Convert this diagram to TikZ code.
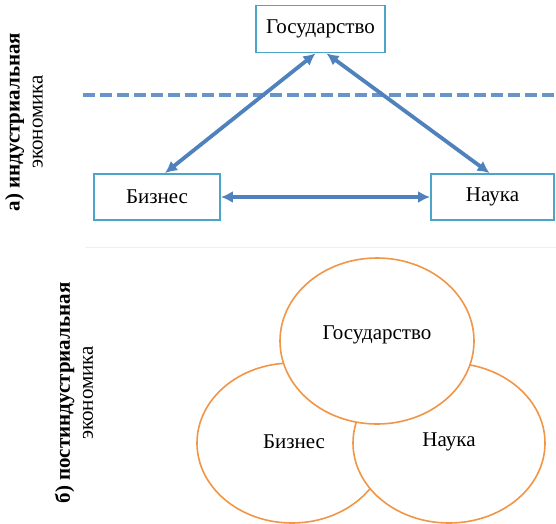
\documentclass[tikz,border=0pt]{standalone}
\usepackage{fontspec}
\setmainfont{Liberation Serif}
\usetikzlibrary{arrows.meta,calc,shapes.geometric}
\definecolor{boxc}{RGB}{75,165,200}
\definecolor{arrc}{RGB}{79,129,189}
\definecolor{circc}{RGB}{240,150,70}
\begin{document}
\begin{tikzpicture}[x=1pt,y=-1pt,
  lbl/.style={font=\rmfamily\fontsize{21}{24}\selectfont},
  box/.style={lbl, draw=boxc, line width=1.8pt, fill=white, inner sep=0pt},
  arr/.style={draw=arrc, line width=3.8pt, {Latex[length=12pt,width=12pt]}-{Latex[length=12pt,width=12pt]}},
  ell/.style={lbl, ellipse, draw=circc, line width=1.6pt, fill=white, inner sep=0pt},
  side/.style={font=\rmfamily\fontsize{21}{23}\selectfont, rotate=90, align=center}]
\useasboundingbox (0,0) rectangle (556,523);
% separator
\draw[gray!12, line width=1pt] (85,247) -- (556,247);
% dashed line
\coordinate (dl) at (83,95);
\coordinate (dr) at (556,95);
\draw[arrc!85, line width=4pt, dash pattern=on 12pt off 5pt] (dl) -- (dr);
% boxes
\node[box, minimum width=129pt, minimum height=47pt] (gov) at (320.5,29) {Государство};
\node[box, minimum width=126pt, minimum height=46pt] (biz) at (157,197) {Бизнес};
\node[box, minimum width=123pt, minimum height=46pt] (sci) at (492.5,197) {Наука};
% arrows
\draw[arr] ($(biz.north)+(8,0)$) -- ($(gov.south)+(-5,0)$);
\draw[arr] ($(sci.north)+(-3,0)$) -- ($(gov.south)+(6,0)$);
\draw[arr] (biz.east) -- (sci.west);
% side labels
\node[side] (la) at (24,122) {\bfseries а) индустриальная\\экономика};
\node[side] (lb) at (74,393) {\bfseries б) постиндустриальная\\экономика};
% ellipses
\node[ell, minimum width=190pt, minimum height=160pt] (cb) at (292,443) {};
\node[ell, minimum width=192pt, minimum height=160pt] (cs) at (449,443) {};
\node[ell, minimum width=194pt, minimum height=166pt] (cg) at (377,341) {};
\node[lbl] (tg) at (377,335) {Государство};
\node[lbl] (tb) at (294,442) {Бизнес};
\node[lbl] (ts) at (449,442) {Наука};
\end{tikzpicture}
\end{document}
